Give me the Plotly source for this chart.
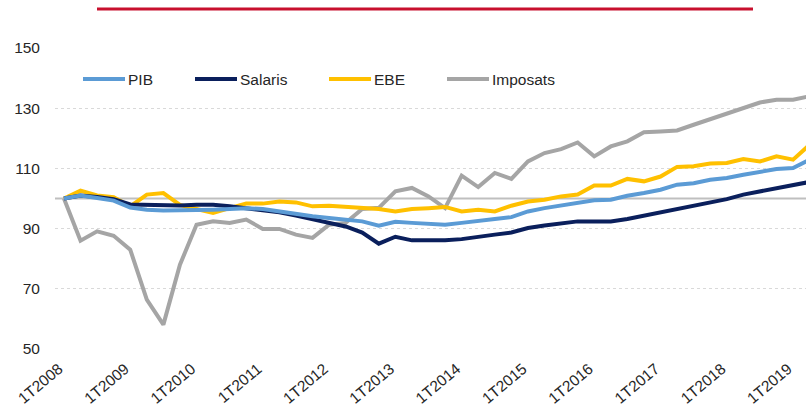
import plotly.graph_objects as go

years = list(range(2008, 2020))
quarters = [f"{q}T{y}" for y in years for q in range(1, 5)][:46]
tick_labels = [f"1T{y}" for y in years]

pib = [100, 101, 100.2, 99.3, 97, 96.3, 96, 96, 96, 96.3, 96.5, 96.8, 96.5, 95.7, 94.6, 94.1,
       93.5, 93, 92.4, 91, 92.3, 91.9, 91.6, 91.3, 91.9, 92.4, 93.2, 93.8, 95.7, 96.8, 97.6, 98.3,
       99.4, 99.6, 100.9, 101.8, 102.9, 104.6, 105.1, 106.2, 106.8, 107.9, 108.7, 109.8, 110.1, 112.9]
salaris = [100, 101, 100.5, 99.8, 98, 97.8, 97.7, 97.7, 97.9, 97.9, 97.4, 96.8, 96.3, 95.4, 94.3, 93.2,
           92.1, 90.7, 88.7, 85, 87.3, 86.1, 86.1, 86.1, 86.5, 87.4, 88, 88.7, 90.2, 91, 91.6, 92.4,
           92.4, 92.4, 93.2, 94.3, 95.7, 96.8, 97.9, 99, 99.8, 101.3, 102.4, 103.5, 104.6, 105.5]
ebe = [100, 102.6, 101, 100.4, 97.4, 101.3, 101.8, 97.9, 96.5, 95.2, 96.8, 98.3, 98.3, 99, 98.7, 97.4,
       97.6, 97.2, 96.8, 96.5, 95.7, 96.5, 96.8, 97.2, 95.7, 96.3, 95.7, 97.6, 99, 99.6, 100.7, 101.3,
       104.3, 104.3, 106.5, 105.7, 107.3, 110.5, 110.7, 111.6, 111.8, 113.1, 112.3, 114, 112.9, 117.9]
imposats = [100, 86, 89.1, 87.6, 83, 66.4, 58.1, 78, 91.3, 92.4, 91.9, 93, 89.9, 89.9, 88, 86.9,
            91.3, 91.9, 96.5, 96.9, 102.4, 103.5, 100.7, 96.8, 107.6, 103.8, 108.5, 106.5, 112.3, 115.1, 116.4, 118.6,
            114, 117.3, 119, 122, 122.3, 122.6, 124.5, 126.4, 128.2, 130.1, 131.9, 132.8, 132.8, 134]

series_names = ["PIB", "Salaris", "EBE", "Imposats"]
series_values = [pib, salaris, ebe, imposats]
colors = ["#5B9BD5", "#0A1F5C", "#FFC000", "#A5A5A5"]

FONT = "Liberation Sans, Arial, sans-serif"
W, H = 806, 407
ML, MR, MT, MB = 55, 0, 48, 58
PW, PH = W - ML - MR, H - MT - MB

def px(x):
    return (x - ML) / PW

def py(y):
    return (H - MB - y) / PH

fig = go.Figure()
# draw order: gray first at back
for name, vals, col in reversed(list(zip(series_names, series_values, colors))):
    fig.add_trace(go.Scatter(x=quarters, y=vals, mode="lines", name=name,
                             line=dict(color=col, width=4), showlegend=False))

shapes = []
# reference line at 100
shapes.append(dict(type="line", xref="paper", yref="y", x0=0, x1=1, y0=100, y1=100,
                   line=dict(color="#BFBFBF", width=2), layer="below"))
# top red rule
shapes.append(dict(type="line", xref="paper", yref="paper", x0=px(97), x1=px(753),
                   y0=py(9), y1=py(9), line=dict(color="#C8102E", width=3)))

annotations = []
legend_x = [83, 195, 329, 447]
for name, col, lx in zip(series_names, colors, legend_x):
    shapes.append(dict(type="line", xref="paper", yref="paper", x0=px(lx), x1=px(lx + 42),
                       y0=py(79), y1=py(79), line=dict(color=col, width=4)))
    annotations.append(dict(xref="paper", yref="paper", x=px(lx + 43), y=py(79), text=name,
                            showarrow=False, xanchor="left", yanchor="middle",
                            font=dict(family=FONT, size=15.5, color="#262626")))

fig.update_layout(
    width=W, height=H,
    margin=dict(l=ML, r=MR, t=MT, b=MB, pad=0),
    paper_bgcolor="white", plot_bgcolor="white",
    shapes=shapes, annotations=annotations,
    showlegend=False,
    xaxis=dict(type="category", range=[-0.54, 44.78], tickmode="array",
               tickvals=tick_labels, ticktext=tick_labels, tickangle=-40,
               ticklabelshift=-5, ticklabelstandoff=7,
               showgrid=False, zeroline=False, showline=False, ticks="",
               automargin=False,
               tickfont=dict(family=FONT, size=15.5, color="#262626")),
    yaxis=dict(range=[50, 150], tickvals=[50, 70, 90, 110, 130, 150],
               showgrid=True, gridcolor="#D9D9D9", griddash="dot", gridwidth=1,
               zeroline=False, showline=False, ticks="", ticklabelstandoff=14,
               automargin=False,
               tickfont=dict(family=FONT, size=15.5, color="#262626")),
)

fig.write_html("out.html", config={"displayModeBar": False},
               post_script="document.body.style.margin='0';document.body.style.overflow='hidden';")
